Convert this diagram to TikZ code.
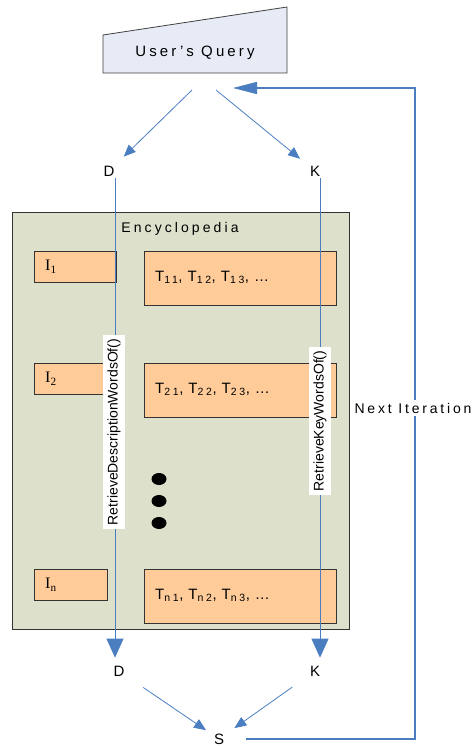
\documentclass[tikz,border=0pt]{standalone}
\usepackage{fontspec}
\setmainfont{Liberation Sans}
\newfontfamily\seriffont{Liberation Serif}
\usetikzlibrary{arrows.meta,positioning,calc}

% Define colors
\definecolor{linkblue}{RGB}{74,126,193}
\definecolor{queryfill}{RGB}{230,235,246}
\definecolor{encfill}{RGB}{221,225,204}
\definecolor{itemfill}{RGB}{255,204,153}

\begin{document}
\begin{tikzpicture}[x=1pt, y=-1pt,
    spaced/.style={font=\fontsize{14}{16}\selectfont\addfontfeature{LetterSpace=20}},
    letter/.style={font=\fontsize{15}{17}\selectfont, inner sep=2pt},
    ibox/.style={draw=black!80, fill=itemfill, minimum height=31, inner xsep=11pt,
        align=left, font=\seriffont\fontsize{16}{18}\selectfont},
    tbox/.style={draw=black!80, fill=itemfill, minimum height=54, text width=170pt,
        inner xsep=11pt, align=left, text depth=4pt,
        font=\fontsize{15}{17}\selectfont\addfontfeature{LetterSpace=26}},
    vlabel/.style={rotate=90, fill=white, inner sep=4pt, font=\fontsize{14}{16}\selectfont},
    thinarr/.style={draw=linkblue, line width=0.8pt, -{Triangle[length=12pt, width=10pt]}},
    bigarr/.style={draw=linkblue, line width=0.8pt, -{Triangle[length=19pt, width=17pt]}},
    looparr/.style={draw=linkblue, line width=1.4pt, -{Triangle[length=24pt, width=12pt]}}]

    \useasboundingbox (0,0) rectangle (475,746);

    % User's query (manual input shape)
    \filldraw[draw=black!75, fill=queryfill, line width=0.8pt]
        (103,35) -- (287,7) -- (287,73) -- (103,73) -- cycle;
    \node[spaced, font=\fontsize{15}{17}\selectfont\addfontfeature{LetterSpace=21}] (query) at (195,53) {User’s Query};
    \coordinate (qd) at (192,90);
    \coordinate (qk) at (216,90);
    \coordinate (qin) at (233,88);

    % Top letters
    \node[letter] (D1) at (109,171) {D};
    \node[letter] (K1) at (315,171) {K};
    \draw[thinarr, shorten >=10pt] (qd) -- (D1);
    \draw[thinarr, shorten >=10pt] (qk) -- (K1);

    % Encyclopedia
    \node[draw=black!80, fill=encfill, line width=0.8pt, anchor=north west,
        minimum width=337, minimum height=417, inner sep=0pt] (ency) at (12,212) {};
    \node[spaced, font=\fontsize{14}{16}\selectfont\addfontfeature{LetterSpace=22}] (enctitle) at (180,229) {Encyclopedia};

    % Items and their terms
    \foreach \n/\y/\tw in {1/251/60, 2/363/60, n/569/51}
        {
        \node[ibox, text width=\tw pt, anchor=north west] (I\n) at (34,\y) {I\textsubscript{\n}};
        \node[tbox, anchor=north west] (T\n) at (144,\y)
            {T\textsubscript{\n1}, T\textsubscript{\n2}, T\textsubscript{\n3}, \dots};
    }

    % Dots
    \foreach \y in {479,501,523}
        {
        \fill (159,\y) ellipse [x radius=7.5, y radius=6];
    }

    % Bottom letters
    \node[letter] (D2) at (119,671) {D};
    \node[letter] (K2) at (315,671) {K};
    \node[letter] (S) at (219,739) {S};

    % Retrieval lines
    \coordinate (dcol) at (115,0);
    \coordinate (kcol) at (320,0);
    \draw[bigarr, shorten >=6pt] (D1.south -| dcol) -- (D2.north -| dcol);
    \draw[bigarr, shorten >=6pt] (K1.south -| kcol) -- (K2.north -| kcol);
    \node[vlabel] (descfn) at (114,432) {RetrieveDescriptionWordsOf()};
    \node[vlabel] (keyfn) at (320,421) {RetrieveKeyWordsOf()};

    % Combine
    \draw[thinarr, shorten <=20pt, shorten >=7pt] (D2) -- (S);
    \draw[thinarr, shorten <=19pt, shorten >=10pt] (K2) -- (S);

    % Loop back
    \coordinate (loopx) at (415,0);
    \draw[looparr, shorten <=20pt] (S) -- (S -| loopx) |- (qin);
    \node[spaced, fill=white, inner xsep=1pt] (nextit) at (413,408) {Next Iteration};
\end{tikzpicture}
\end{document}
